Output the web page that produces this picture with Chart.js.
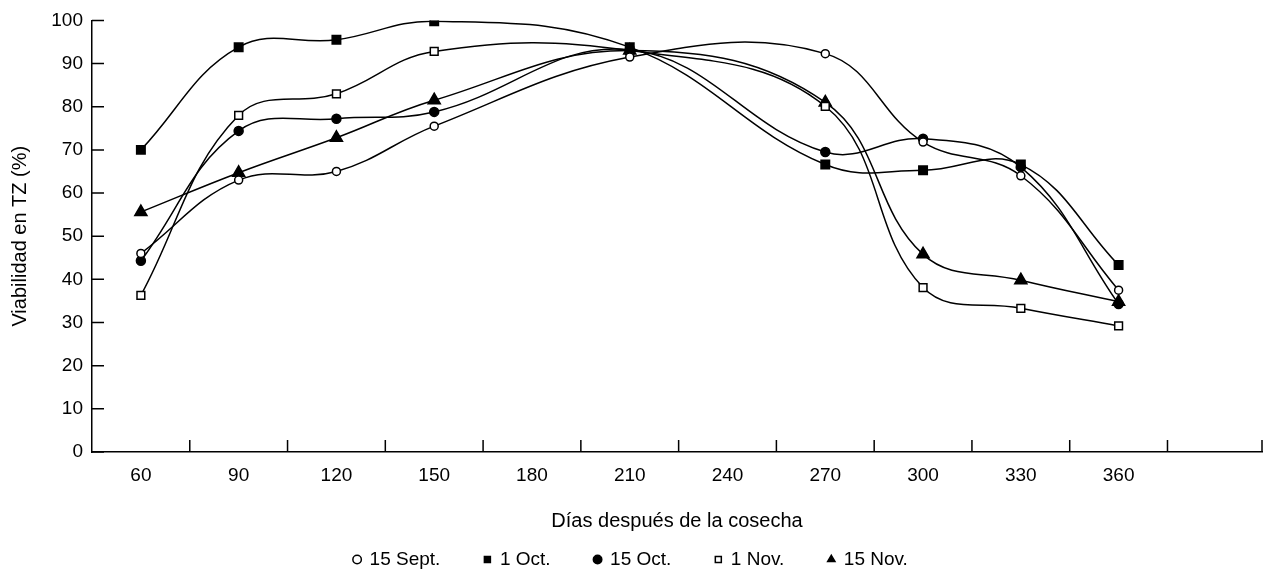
<!DOCTYPE html>
<html>
<head>
<meta charset="utf-8">
<script src="https://cdn.jsdelivr.net/npm/chart.js@4/dist/chart.umd.min.js"></script>
<style>
  body { margin: 0; background: #fff; overflow: hidden; }
  canvas { display: block; }
</style>
</head>
<body>
<canvas id="chart" width="1263" height="570"></canvas>
<script>
// days after harvest where each series was measured
const days = [60, 90, 120, 150, 210, 270, 300, 330, 360];
const xLabels = [60, 90, 120, 150, 180, 210, 240, 270, 300, 330, 360];
const xMarks = [75, 105, 135, 165, 195, 225, 255, 285, 315, 345, 375, 404];
const yTicks = [0, 10, 20, 30, 40, 50, 60, 70, 80, 90, 100];

// viability in TZ (%) per sowing date
const sept15 = [46, 63, 65, 75.5, 91.5, 92.3, 71.8, 64, 37.5];
const oct1 = [70, 93.8, 95.5, 99.8, 93.8, 66.6, 65.3, 66.6, 43.3];
const oct15 = [44.3, 74.4, 77.2, 78.8, 93.2, 69.5, 72.6, 66, 34.3];
const nov1 = [36.3, 78, 83, 92.8, 93, 80.1, 38.1, 33.3, 29.2];
const nov15 = [55.6, 64.7, 72.8, 81.5, 93, 81, 45.8, 39.8, 34.8];

const FONT = "'Liberation Sans', Arial, Helvetica, sans-serif";
Chart.defaults.font.family = FONT;
Chart.defaults.color = "#000";

const toPoints = (vals) => vals.map((v, i) => ({ x: days[i], y: v }));

const series = (label, vals, style, radius, fill) => ({
  label,
  data: toPoints(vals),
  borderColor: "#000",
  borderWidth: 1.5,
  tension: 0.4,
  fill: false,
  pointStyle: style,
  pointRadius: radius,
  pointBackgroundColor: fill,
  pointBorderColor: "#000",
  pointBorderWidth: 1.5,
});

// tick marks point into the plot area in the original
const innerTicks = {
  id: "innerTicks",
  afterDraw(chart) {
    const { ctx, chartArea, scales } = chart;
    ctx.save();
    ctx.strokeStyle = "#000";
    ctx.lineWidth = 1.5;
    ctx.beginPath();
    xMarks.forEach((v) => {
      const px = scales.x.getPixelForValue(v);
      ctx.moveTo(px, chartArea.bottom);
      ctx.lineTo(px, chartArea.bottom - 12);
    });
    yTicks.forEach((v) => {
      const py = scales.y.getPixelForValue(v);
      ctx.moveTo(chartArea.left, py);
      ctx.lineTo(chartArea.left + 12, py);
    });
    ctx.stroke();
    ctx.restore();
  },
};

new Chart("chart", {
  type: "line",
  data: {
    datasets: [
      series("15 Sept.", sept15, "circle", 4, "#fff"),
      series("1 Oct.", oct1, "rect", 6, "#000"),
      series("15 Oct.", oct15, "circle", 4.5, "#000"),
      series("1 Nov.", nov1, "rect", 5.5, "#fff"),
      series("15 Nov.", nov15, "triangle", 7, "#000"),
    ],
  },
  options: {
    responsive: false,
    animation: false,
    layout: { autoPadding: false, padding: { top: 19, right: 1, left: 0, bottom: -9 } },
    scales: {
      x: {
        type: "linear",
        min: 45,
        max: 404,
        afterBuildTicks: (s) => {
          s.ticks = xLabels.map((v) => ({ value: v }));
        },
        afterFit: (s) => {
          s.height = 54;
          s.paddingLeft = 0;
          s.paddingRight = 0;
        },
        grid: { display: false, drawTicks: false },
        border: { display: true, color: "#000", width: 1.5 },
        ticks: { padding: 12, font: { size: 19 }, color: "#000", maxRotation: 0, autoSkip: false },
        title: {
          display: true,
          text: "Días después de la cosecha",
          font: { size: 20 },
          color: "#000",
          padding: { top: 0, bottom: -27 },
        },
      },
      y: {
        min: 0,
        max: 100,
        afterBuildTicks: (s) => {
          s.ticks = yTicks.map((v) => ({ value: v }));
        },
        afterFit: (s) => {
          s.width = 92;
        },
        grid: { display: false, drawTicks: false },
        border: { display: true, color: "#000", width: 1.5 },
        ticks: { padding: 9, font: { size: 19 }, color: "#000" },
        title: {
          display: true,
          text: "Viabilidad en TZ (%)",
          font: { size: 20 },
          color: "#000",
          padding: { top: 8, bottom: 0 },
        },
      },
    },
    plugins: {
      legend: {
        position: "bottom",
        labels: {
          usePointStyle: true,
          boxWidth: 6,
          boxHeight: 6,
          padding: 44,
          font: { size: 19 },
          color: "#000",
        },
      },
      tooltip: { enabled: false },
    },
  },
  plugins: [innerTicks],
});
</script>
</body>
</html>
